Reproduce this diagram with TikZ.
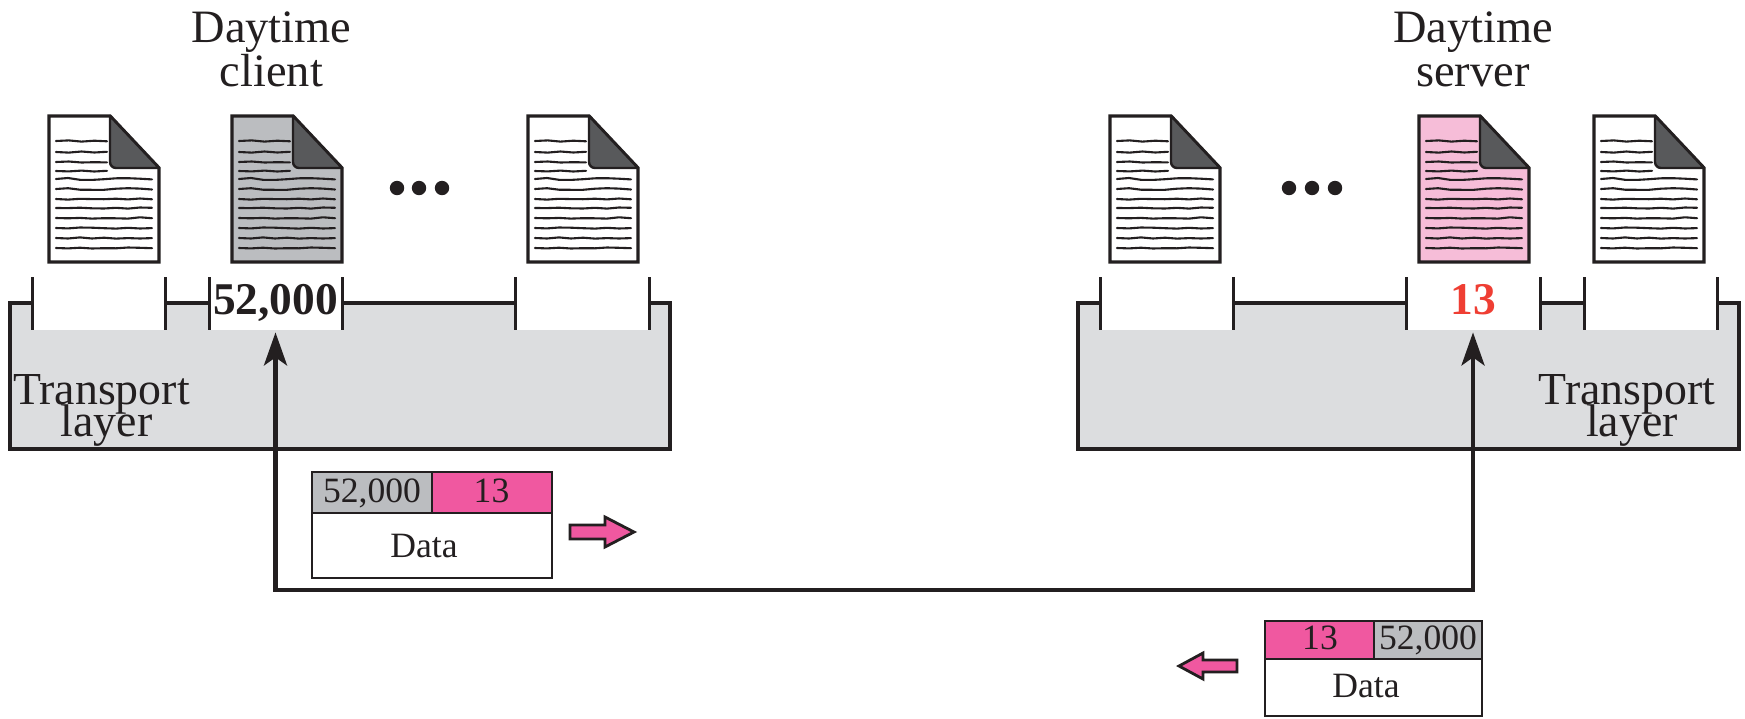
\documentclass[tikz,border=0pt]{standalone}
\usepackage{fontspec}
\setmainfont{Liberation Serif}
\usetikzlibrary{arrows.meta}
\AtBeginDocument{\lineskiplimit=-100pt\relax}
\definecolor{tankgray}{HTML}{DCDDDF}
\definecolor{portgray}{HTML}{BBBDC0}
\definecolor{folddark}{HTML}{58595B}
\definecolor{hotpink}{HTML}{F058A0}
\definecolor{softpink}{HTML}{F6BDD8}
\definecolor{portred}{HTML}{EF3E33}
\definecolor{ink}{HTML}{231F20}
\tikzset{
  x=0.5pt,y=-0.5pt,
  outline/.style={draw=ink,line width=1.7pt,line join=miter},
  wave/.style={draw=ink,line width=1.05pt,line join=round,line cap=round},
  tick/.style={draw=ink,line width=1.5pt},
  tankline/.style={draw=ink,line width=1.55pt,line join=miter},
  cell/.style={draw=ink,line width=1.4pt},
  flow/.style={draw=ink,line width=2.2pt,line join=miter,{Stealth[length=16.5pt,width=11.5pt,inset=4pt]}-{Stealth[length=16.5pt,width=11.5pt,inset=4pt]}},
  heading/.style={font=\fontsize{23.2}{22}\selectfont,align=center,anchor=base,inner sep=0pt,text=ink},
  layertext/.style={font=\fontsize{22.9}{16}\selectfont,align=center,anchor=base,inner sep=0pt,text=ink},
  porttext/.style={font=\fontsize{22.7}{24}\selectfont\bfseries,anchor=base,inner sep=0pt,text height=18.5pt,text depth=8pt,align=center},
  celltext/.style={font=\fontsize{17.8}{20}\selectfont,anchor=base,inner sep=0pt,text=ink},
  dirarrow/.style={draw=ink,line width=1.4pt,fill=hotpink,line join=miter},
}
\newcommand{\wlong}[2]{\draw[wave] (7,#1) foreach[count=\i] \d in {#2} {-- ({7+\i*12},{#1+\d})};}
\newcommand{\wshort}[2]{\draw[wave] (7,#1) foreach[count=\i] \d in {#2} {-- ({7+\i*12.75},{#1+\d})};}
\newcommand{\docu}[3]{%
  \begin{scope}[shift={(#1,116)}]
    \path[outline,fill=#3] (0,0) -- (#2-49,0) -- (#2,52) -- (#2,146) -- (0,146) -- cycle;
    \path[draw=ink,line width=1.2pt,fill=folddark,line join=round] (#2-49,0) [rounded corners=3pt] -- (#2-49,52) [sharp corners] -- (#2,52) -- cycle;
    \wshort{25}{-.6,.6,-.3,.3}
    \wshort{36}{.6,-.5,.5,-.2}
    \wshort{46}{-.5,.5,.2,.4}
    \wshort{55}{.4,-.4,.5,-.2}
    \wlong{63}{-1,.8,.9,.2,-.7,-.8,-.3,.4}
    \wlong{73}{-.8,.7,.8,.8,-.3,-.8,-.4,.5}
    \wlong{83}{.6,-.2,.1,.2,-.3,.4,-.5,.3}
    \wlong{92}{.1,-.3,.3,.5,-.2,.6,-.5,-.2}
    \wlong{102}{.3,-.1,.6,.2,.3,.6,-.7,.2}
    \wlong{112}{.4,-.5,-.3,.2,.6,-.2,.5,.1}
    \wlong{122}{.5,-.6,.5,-.3,.6,.1,.5,.1}
    \wlong{132}{.4,-.3,.5,.2,.3,-.5,-.2,.2}
  \end{scope}}
\begin{document}
\begin{tikzpicture}
\useasboundingbox (0,0) rectangle (1745,718);
\fill[white] (0,0) rectangle (1745,718);
% tanks
\fill[tankgray] (10,303) rectangle (670,449);
\fill[tankgray] (1078,303) rectangle (1739,449);
\foreach \a/\b in {32/165,209/342,515/649,1100/1233,1406/1540,1584/1717}{\fill[white] (\a,277) rectangle (\b,330);}
% tank outlines
\draw[tankline] (32,303) -- (10,303) -- (10,449) -- (670,449) -- (670,303) -- (649,303);
\draw[tankline] (165,303) -- (209,303);
\draw[tankline] (342,303) -- (515,303);
\draw[tankline] (1100,303) -- (1078,303) -- (1078,449) -- (1739,449) -- (1739,303) -- (1717,303);
\draw[tankline] (1233,303) -- (1406,303);
\draw[tankline] (1540,303) -- (1584,303);
\foreach \x in {32,165,209,342,515,649,1100,1233,1406,1540,1584,1717}{\draw[tick] (\x,277) -- (\x,330);}
% documents
\docu{49}{110}{white}
\docu{232}{110}{portgray}
\docu{528}{110}{white}
\docu{1110}{110}{white}
\docu{1419}{110}{softpink}
\docu{1594}{110}{white}
% dots
\foreach \x in {397,419,442,1289,1312,1335}{\fill[ink] (\x,188) circle (3.6pt);}
% headings
\node[heading] (clientlabel) at (271.5,86) {Daytime\\client};
\node[heading] (serverlabel) at (1473,86) {Daytime\\server};
\node[layertext] (layerleft) at (101.5,436) {Transport\\\hspace*{5pt}layer};
\node[layertext] (layerright) at (1627,436) {Transport\\\hspace*{5pt}layer};
% ports
\node[porttext,text width=66pt,text=ink] (portclient) at (275.5,314) {52,000};
\node[porttext,text width=66pt,text=portred] (portserver) at (1473,314) {13};
% connection
\coordinate (tipserver) at ([yshift=-1pt]portserver.south);
\coordinate (tipclient) at ([yshift=-1pt]portclient.south);
\coordinate (turn) at (0,590);
\draw[flow] (tipclient) -- (tipclient |- turn) -- (tipserver |- turn) -- (tipserver);
% packet left
\draw[cell,fill=portgray] (312,472) rectangle (432,513);
\draw[cell,fill=hotpink] (432,472) rectangle (552,513);
\draw[cell,fill=white] (312,513) rectangle (552,578);
\node[celltext] (a1) at (372,502) {52,000};
\node[celltext] (a2) at (491.5,502) {13};
\node[celltext] (a3) at (424,557) {Data};
\draw[dirarrow] (570,525) -- (605,525) -- (605,517) -- (634,532) -- (605,547) -- (605,539) -- (570,539) -- cycle;
% packet right
\draw[cell,fill=hotpink] (1265,621) rectangle (1374,659);
\draw[cell,fill=portgray] (1374,621) rectangle (1482,659);
\draw[cell,fill=white] (1265,659) rectangle (1482,716);
\node[celltext] (b1) at (1320,649) {13};
\node[celltext] (b2) at (1428,649) {52,000};
\node[celltext] (b3) at (1366,697) {Data};
\draw[dirarrow] (1237,660) -- (1203,660) -- (1203,653) -- (1179,666) -- (1203,679) -- (1203,672) -- (1237,672) -- cycle;
\end{tikzpicture}
\end{document}
